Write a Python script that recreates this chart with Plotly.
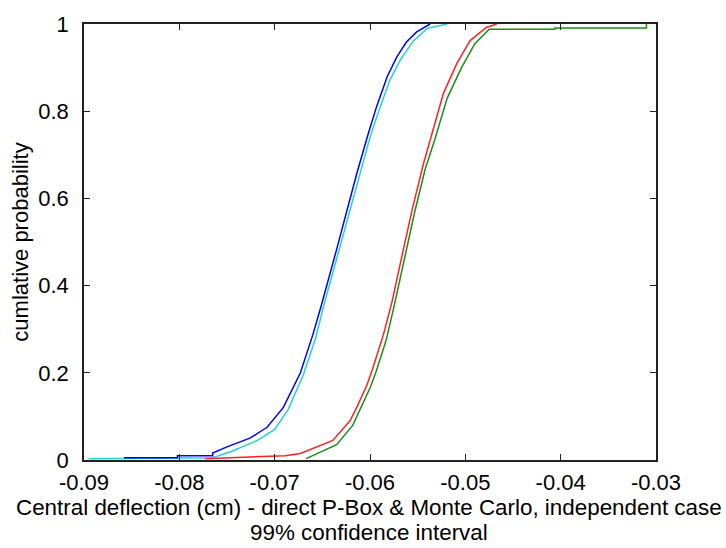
import plotly.graph_objects as go

# Blue curve (left, lower bound)
blue_x = [-0.0858, -0.0802, -0.0802, -0.0765, -0.0765, -0.0750, -0.0726, -0.0708, -0.0691,
          -0.0673, -0.0660, -0.0651, -0.0635, -0.0624, -0.0614, -0.0602, -0.0593, -0.0582,
          -0.0572, -0.0562, -0.0551, -0.0537]
blue_y = [0.005, 0.005, 0.010, 0.010, 0.016, 0.030, 0.050, 0.075, 0.120,
          0.200, 0.287, 0.355, 0.483, 0.573, 0.656, 0.747, 0.811, 0.879,
          0.924, 0.958, 0.982, 1.000]

# Cyan curve (left)
cyan_x = [-0.0895, -0.0765, -0.0745, -0.0718, -0.0700, -0.0686, -0.0670, -0.0657, -0.0649,
          -0.0633, -0.0622, -0.0612, -0.0600, -0.0590, -0.0579, -0.0568, -0.0555, -0.0540,
          -0.0519]
cyan_y = [0.003, 0.005, 0.020, 0.045, 0.070, 0.115, 0.195, 0.280, 0.350,
          0.478, 0.568, 0.650, 0.740, 0.805, 0.872, 0.918, 0.960, 0.990,
          1.000]

# Red curve (right)
red_x = [-0.0773, -0.0689, -0.0673, -0.0639, -0.0621, -0.0614, -0.0603, -0.0597, -0.0586,
         -0.0577, -0.0565, -0.0555, -0.0544, -0.0535, -0.0523, -0.0509, -0.0495, -0.0478,
         -0.0467]
red_y = [0.003, 0.010, 0.015, 0.045, 0.090, 0.120, 0.173, 0.211, 0.287,
         0.362, 0.483, 0.581, 0.679, 0.747, 0.841, 0.909, 0.962, 0.992,
         1.000]

# Green curve (right, upper bound)
green_x = [-0.0667, -0.0660, -0.0635, -0.0618, -0.0600, -0.0594, -0.0583, -0.0575, -0.0563,
           -0.0553, -0.0542, -0.0532, -0.0519, -0.0504, -0.0490, -0.0475, -0.0406, -0.0406,
           -0.0310, -0.0310]
green_y = [0.003, 0.010, 0.035, 0.080, 0.165, 0.200, 0.275, 0.350, 0.470,
           0.570, 0.668, 0.735, 0.830, 0.900, 0.955, 0.988, 0.988, 0.991,
           0.991, 1.000]

x_ticks = [-0.09, -0.08, -0.07, -0.06, -0.05, -0.04, -0.03]
x_tick_labels = ["-0.09", "-0.08", "-0.07", "-0.06", "-0.05", "-0.04", "-0.03"]
y_ticks = [0, 0.2, 0.4, 0.6, 0.8, 1]
y_tick_labels = ["0", "0.2", "0.4", "0.6", "0.8", "1"]

x_title = "Central deflection (cm) - direct P-Box & Monte Carlo, independent case"
x_subtitle = "99% confidence interval"
y_title = "cumlative probability"

FONT = "Liberation Sans, Arial, sans-serif"

fig = go.Figure()
fig.add_trace(go.Scatter(x=cyan_x, y=cyan_y, mode="lines", line=dict(color="#22d3d3", width=1.5)))
fig.add_trace(go.Scatter(x=blue_x, y=blue_y, mode="lines", line=dict(color="#0000ff", width=1.5)))
fig.add_trace(go.Scatter(x=green_x, y=green_y, mode="lines", line=dict(color="#1a8c1a", width=1.5)))
fig.add_trace(go.Scatter(x=red_x, y=red_y, mode="lines", line=dict(color="#ff2020", width=1.5)))

plot_left, plot_right, plot_top, plot_bottom = 84, 656, 18, 460
def py(pix):
    return (plot_bottom - pix) / (plot_bottom - plot_top)
def px(pix):
    return (pix - plot_left) / (plot_right - plot_left)

fig.update_layout(
    width=726, height=548,
    margin=dict(l=plot_left, r=726 - plot_right, t=plot_top, b=548 - plot_bottom),
    paper_bgcolor="white", plot_bgcolor="white",
    showlegend=False,
    font=dict(family=FONT, size=22, color="black"),
    xaxis=dict(range=[-0.09, -0.03], tickvals=x_ticks, ticktext=x_tick_labels,
               ticks="inside", ticklen=6, tickcolor="#222", tickwidth=1,
               showline=True, linecolor="#222", linewidth=1.5, mirror="ticks",
               showgrid=False, zeroline=False, tickfont=dict(size=22),
               ticklabelstandoff=2),
    yaxis=dict(range=[0, 1], tickvals=y_ticks, ticktext=y_tick_labels,
               ticks="inside", ticklen=6, tickcolor="#222", tickwidth=1,
               showline=True, linecolor="#222", linewidth=1.5, mirror="ticks",
               showgrid=False, zeroline=False, tickfont=dict(size=22),
               ticklabelstandoff=9,
               title=dict(text=y_title, font=dict(size=22), standoff=4)),
    annotations=[
        dict(text=x_title, x=px(369), xref="paper", y=py(508), yref="paper",
             xanchor="center", yanchor="middle", showarrow=False, font=dict(size=22.4)),
        dict(text=x_subtitle, x=px(369), xref="paper", y=py(533), yref="paper",
             xanchor="center", yanchor="middle", showarrow=False, font=dict(size=22.4)),
    ],
)

fig.write_html("out.html")
